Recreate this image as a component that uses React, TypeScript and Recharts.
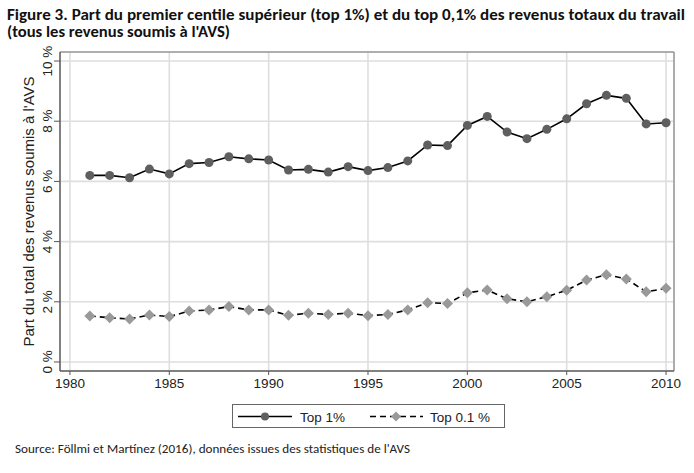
import React from 'react'
import { LineChart, Line, XAxis, YAxis, CartesianGrid, ReferenceArea } from 'recharts'

const years = [
  1981, 1982, 1983, 1984, 1985, 1986, 1987, 1988, 1989, 1990,
  1991, 1992, 1993, 1994, 1995, 1996, 1997, 1998, 1999, 2000,
  2001, 2002, 2003, 2004, 2005, 2006, 2007, 2008, 2009, 2010,
]
const top1 = [
  6.2, 6.2, 6.12, 6.41, 6.25, 6.59, 6.63, 6.82, 6.75, 6.71,
  6.38, 6.4, 6.31, 6.49, 6.36, 6.46, 6.68, 7.21, 7.19, 7.86,
  8.16, 7.64, 7.42, 7.73, 8.08, 8.58, 8.86, 8.76, 7.91, 7.95,
]
const top01 = [
  1.53, 1.47, 1.43, 1.56, 1.51, 1.69, 1.73, 1.84, 1.73, 1.73,
  1.55, 1.62, 1.58, 1.62, 1.54, 1.58, 1.73, 1.97, 1.94, 2.3,
  2.39, 2.1, 2.0, 2.17, 2.38, 2.72, 2.9, 2.76, 2.33, 2.45,
]
const xTicks = [1980, 1985, 1990, 1995, 2000, 2005, 2010]
const yTicks = [0, 2, 4, 6, 8, 10]

const titleLines = [
  'Figure 3. Part du premier centile supérieur (top 1%) et du top 0,1% des revenus totaux du travail',
  "(tous les revenus soumis à l'AVS)",
]
const sourceText = "Source: Föllmi et Martínez (2016), données issues des statistiques de l'AVS"
const yLabel = "Part du total des revenus soumis à l'AVS"
const seriesNames = ['Top 1%', 'Top 0.1 %']

const data = years.map((y, i) => ({ year: y, top1: top1[i], top01: top01[i] }))

const X_DOMAIN = [1979.5, 2010.4]
const Y_DOMAIN = [-0.3, 10.3]
const axisFont = '"Liberation Sans", Arial, sans-serif'
const calibri = 'Carlito, Calibri, "Open Sans", sans-serif'

const YTick = (props: any) => {
  const { x, y, payload } = props
  return (
    <text x={x} y={y} transform={`rotate(-90, ${x}, ${y})`} textAnchor="middle"
      fontFamily={axisFont} fontSize={13.5} fill="#222">
      {payload.value} %
    </text>
  )
}

const Diamond = (props: any) => {
  const { cx, cy, index } = props
  if (cx == null || cy == null) return <g key={index} />
  const r = 5.5
  return <polygon key={index} points={`${cx},${cy - r} ${cx + r},${cy} ${cx},${cy + r} ${cx - r},${cy}`} fill="#999" />
}

const Legend = () => (
  <div style={{
    position: 'absolute', left: 232, top: 404, width: 271, height: 22,
    border: '1px solid #666', background: '#fff', fontFamily: axisFont, fontSize: 13.5, color: '#222',
  }}>
    <svg width={271} height={22} style={{ position: 'absolute', left: 0, top: 0 }}>
      <line x1={5} x2={59} y1={11.5} y2={11.5} stroke="#000" strokeWidth={1.6} />
      <circle cx={32} cy={11.5} r={4} fill="#5f5f5f" />
      <text x={67} y={16.5} fontFamily={axisFont} fontSize={13.5} fill="#222">{seriesNames[0]}</text>
      <line x1={137} x2={190} y1={11.5} y2={11.5} stroke="#000" strokeWidth={1.6} strokeDasharray="6 4" />
      <polygon points="163,6.5 168,11.5 163,16.5 158,11.5" fill="#999" />
      <text x={197} y={16.5} fontFamily={axisFont} fontSize={13.5} fill="#222">{seriesNames[1]}</text>
    </svg>
  </div>
)

export default function App() {
  return (
    <div style={{ position: 'absolute', left: 0, top: 0, width: 694, height: 473, background: '#fff' }}>
      <LineChart width={694} height={473} data={data} margin={{ top: 52, right: 20, bottom: 72, left: 20 }}>
        <CartesianGrid stroke="#dedede" strokeWidth={1.6} />
        <ReferenceArea x1={X_DOMAIN[0]} x2={X_DOMAIN[1]} y1={Y_DOMAIN[0]} y2={Y_DOMAIN[1]}
          fill="none" fillOpacity={0} stroke="#777" strokeWidth={1} />
        <XAxis dataKey="year" type="number" domain={X_DOMAIN} ticks={xTicks} allowDataOverflow height={30}
          tickSize={4} tickLine={{ stroke: '#555' }} axisLine={{ stroke: '#555' }}
          tick={{ fontFamily: axisFont, fontSize: 13.5, fill: '#222' }} tickMargin={3} />
        <YAxis type="number" domain={Y_DOMAIN} ticks={yTicks} allowDataOverflow width={40}
          tickSize={6} tickLine={{ stroke: '#555' }} axisLine={{ stroke: '#555' }} tick={<YTick />}
          label={{
            content: (p: any) => {
              const vb = p.viewBox
              const cx = vb.x + 14
              const cy = vb.y + vb.height / 2
              return (
                <text x={cx} y={cy} transform={`rotate(-90, ${cx}, ${cy})`} textAnchor="middle"
                  fontFamily={axisFont} fontSize={15} fill="#222">{yLabel}</text>
              )
            },
          }} />
        <Line type="linear" dataKey="top1" stroke="#000" strokeWidth={1.6} isAnimationActive={false}
          dot={{ r: 4.5, fill: '#5f5f5f', stroke: 'none' }} activeDot={false} />
        <Line type="linear" dataKey="top01" stroke="#000" strokeWidth={1.6} strokeDasharray="6 4"
          isAnimationActive={false} dot={<Diamond />} activeDot={false} />
      </LineChart>
      <svg width={694} height={473} style={{ position: 'absolute', left: 0, top: 0, pointerEvents: 'none' }}>
        <text x={7} y={20} fontFamily={calibri} fontWeight="bold" fontSize={15} fill="#111"
          textLength={678} lengthAdjust="spacingAndGlyphs">{titleLines[0]}</text>
        <text x={7} y={37} fontFamily={calibri} fontWeight="bold" fontSize={15} fill="#111"
          textLength={223} lengthAdjust="spacingAndGlyphs">{titleLines[1]}</text>
        <text x={15} y={453} fontFamily={calibri} fontSize={11.5} fill="#222"
          textLength={395} lengthAdjust="spacingAndGlyphs">{sourceText}</text>
      </svg>
      <Legend />
    </div>
  )
}
